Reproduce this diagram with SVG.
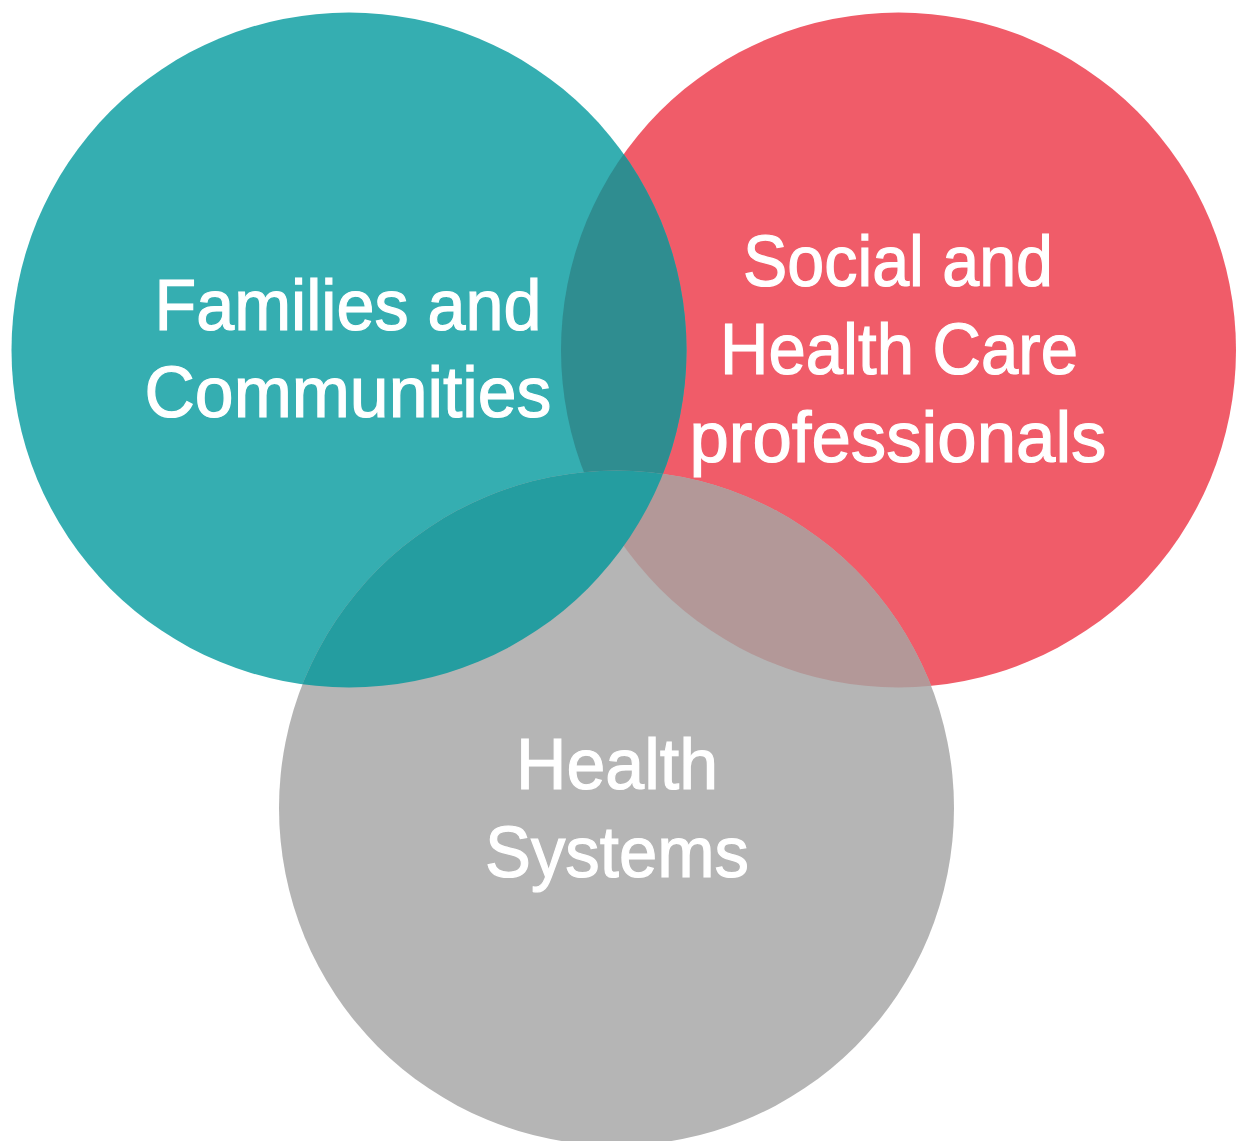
<svg xmlns="http://www.w3.org/2000/svg" width="1236" height="1141" viewBox="0 0 1236 1141">
<style>
.lbl{font-family:"Liberation Sans","Arial",sans-serif;font-size:72px;font-weight:normal;fill:#ffffff;stroke:#ffffff;stroke-width:1.2px;text-anchor:middle;}
</style>
<defs>
<clipPath id="cTeal"><circle cx="349" cy="350" r="337.5"/></clipPath>
<clipPath id="cRed"><circle cx="898.5" cy="350" r="337.5"/></clipPath>
</defs>
<rect width="1236" height="1141" fill="#ffffff"/>
<g id="circles">
<circle id="red" cx="898.5" cy="350" r="337.5" fill="#F05C69"/>
<circle id="teal" cx="349" cy="350" r="337.5" fill="#35AEB1"/>
<circle id="gray" cx="616.5" cy="808" r="337.5" fill="#B5B5B5"/>
<circle cx="898.5" cy="350" r="337.5" fill="#2F8D90" clip-path="url(#cTeal)"/>
<circle cx="616.5" cy="808" r="337.5" fill="#B39898" clip-path="url(#cRed)"/>
<circle cx="616.5" cy="808" r="337.5" fill="#249DA0" clip-path="url(#cTeal)"/>
</g>
<g id="node-families">
<text class="lbl" x="348" y="330" textLength="387" lengthAdjust="spacingAndGlyphs">Families and</text>
<text class="lbl" x="348" y="417" textLength="407" lengthAdjust="spacingAndGlyphs">Communities</text>
</g>
<g id="node-professionals">
<text class="lbl" x="898" y="286" textLength="310" lengthAdjust="spacingAndGlyphs">Social and</text>
<text class="lbl" x="899" y="374" textLength="358" lengthAdjust="spacingAndGlyphs">Health Care</text>
<text class="lbl" x="898" y="462" textLength="417" lengthAdjust="spacingAndGlyphs">professionals</text>
</g>
<g id="node-systems">
<text class="lbl" x="617" y="789" textLength="202" lengthAdjust="spacingAndGlyphs">Health</text>
<text class="lbl" x="617" y="877" textLength="264" lengthAdjust="spacingAndGlyphs">Systems</text>
</g>
<g id="connectors"/>
</svg>
